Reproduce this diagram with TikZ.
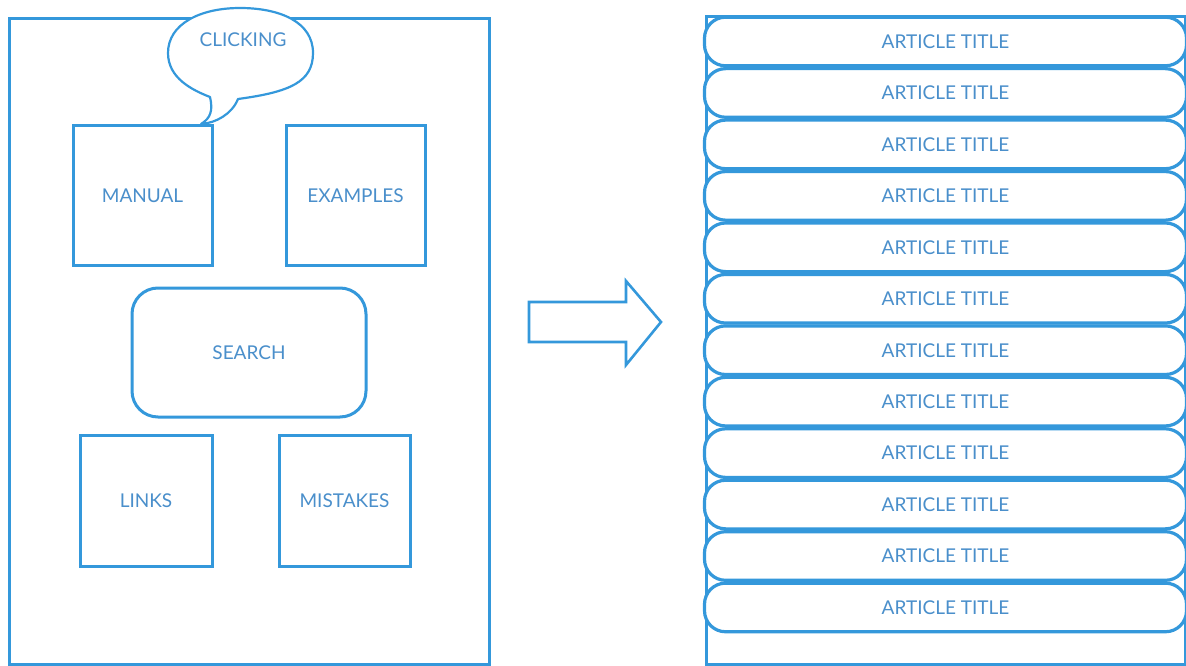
\documentclass[tikz,border=0pt]{standalone}
\usepackage{fontspec}
\setmainfont{Lato}
\definecolor{lineblue}{HTML}{3498DB}
\definecolor{textblue}{HTML}{4A8FCB}
\begin{document}
\begin{tikzpicture}[x=1pt,y=-1pt,
  every node/.style={font=\fontsize{19}{22}\selectfont, text=textblue},
  frame/.style={draw=lineblue, line width=3pt, inner sep=0pt},
  tile/.style={draw=lineblue, line width=3pt, inner sep=0pt, fill=white},
  pill/.style={draw=lineblue, line width=3.2pt, fill=white, rounded corners=21pt,
    minimum width=482pt, minimum height=48.6pt, inner sep=0pt},
  outline/.style={draw=lineblue, line width=2.6pt, line join=round, fill=white}]
\useasboundingbox (0,0) rectangle (1186,666);
% left page
\node[frame, minimum width=480pt, minimum height=645pt] (page) at (249,341.5) {};
\node[tile, minimum width=139pt, minimum height=139pt] (manual) at (142.5,195.5) {MANUAL};
\node[tile, minimum width=139pt, minimum height=139pt] (examples) at (355.5,195.5) {EXAMPLES};
\node[tile, rounded corners=26pt, minimum width=234pt, minimum height=129pt] (search) at (249,352.5) {SEARCH};
\node[tile, minimum width=132pt, minimum height=131pt] (links) at (146,500.5) {LINKS};
\node[tile, minimum width=131pt, minimum height=131pt] (mistakes) at (344.5,500.5) {MISTAKES};
% speech bubble pointing at the manual
\coordinate (tail) at (201,124);
\draw[outline, line width=2.2pt] (210,97) .. controls (213,110) and (211,118) .. (tail)
  .. controls (216,123) and (232,114) .. (238,99)
  .. controls (290,92) and (313,82) .. (313,53)
  .. controls (313,22) and (280,8) .. (240,8)
  .. controls (200,8) and (168,24) .. (168,53)
  .. controls (168,78) and (192,90) .. (210,97) -- cycle;
\node (clicking) at (243,40) {CLICKING};
% big arrow
\draw[outline, line width=2.6pt, line join=miter] (529,302) -- (626,302) -- (626,281) -- (661,322)
  -- (626,365) -- (626,342) -- (529,342) -- cycle;
% right page: list of articles
\node[frame, minimum width=479pt, minimum height=647pt] (list) at (945.5,340.5) {};
\foreach \i in {0,...,11}{
  \node[pill] (art\i) at (945.5,{41.5+51.45*\i}) {ARTICLE TITLE};
}
\end{tikzpicture}
\end{document}
